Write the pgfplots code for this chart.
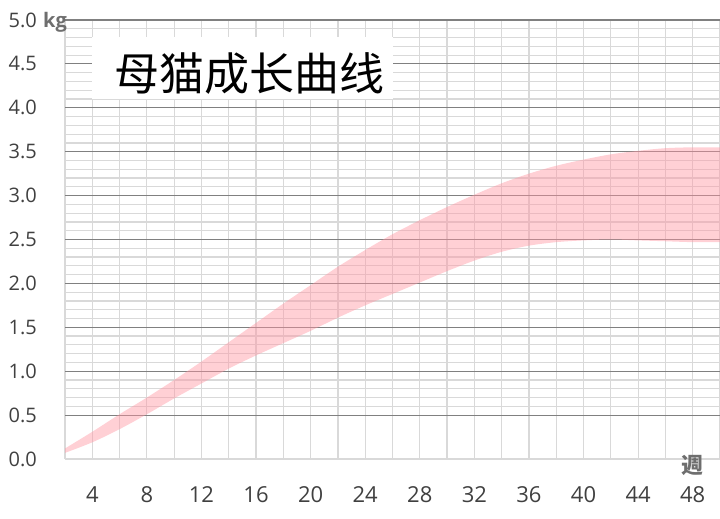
\documentclass[border=0pt]{standalone}
\usepackage{fontspec}
\setmainfont{Open Sans}
\newfontfamily\cjk{Noto Sans CJK SC}
\usepackage{pgfplots}
\pgfplotsset{compat=1.18}
\usepgfplotslibrary{fillbetween}

\definecolor{ticktext}{RGB}{64,64,64}
\definecolor{unittext}{RGB}{110,110,110}
\definecolor{gridlight}{RGB}{217,217,217}
\definecolor{griddark}{RGB}{128,128,128}
\definecolor{bandpink}{RGB}{255,150,162}

% upper and lower limits of the weight range (kg) by week
\pgfplotstableread{
week upper lower
2  0.12 0.07
4  0.31 0.19
6  0.51 0.34
8  0.70 0.51
10 0.90 0.69
12 1.11 0.86
14 1.33 1.03
16 1.55 1.18
18 1.77 1.32
20 1.98 1.46
22 2.19 1.61
24 2.38 1.75
26 2.56 1.88
28 2.72 2.01
30 2.87 2.14
32 3.01 2.26
34 3.14 2.36
36 3.25 2.43
38 3.34 2.47
40 3.41 2.49
42 3.47 2.50
44 3.51 2.49
46 3.54 2.48
48 3.55 2.47
50 3.55 2.47
}\weights

\begin{document}
\begin{tikzpicture}
\begin{axis}[
scale only axis,
width=655bp, height=439bp,
xmin=2, xmax=50,
ymin=0, ymax=5,
clip=false,
axis line style={draw=none},
tick style={draw=none},
xtick={4,8,...,48},
minor xtick={2,6,...,50},
ytick={0.5,1,...,5},
extra y ticks={0},
extra y tick labels={0.0},
extra y tick style={major grid style={gridlight, line width=1.2bp},
  y grid style={gridlight, line width=1.2bp}},
minor y tick num=4,
xmajorgrids, xminorgrids,
ymajorgrids, yminorgrids,
x grid style={gridlight, line width=1.2bp},
minor x grid style={gridlight, line width=1.2bp},
y grid style={griddark, line width=1.2bp},
minor y grid style={gridlight, line width=1.2bp},
/pgf/number format/assume math mode=true,
yticklabel={\pgfmathprintnumber[fixed, fixed zerofill, precision=1]{\tick}},
ticklabel style={text=ticktext},
yticklabel style={anchor=east, inner sep=0pt, xshift=-28bp,
  font=\fontsize{20bp}{24bp}\selectfont},
xticklabel style={anchor=center, inner sep=0pt, yshift=-35.5bp,
  font=\fontsize{22bp}{26bp}\selectfont},
]
\addplot [draw=none, name path=up, smooth, tension=0.5]
  table [x=week, y=upper] {\weights};
\addplot [draw=none, name path=lo, smooth, tension=0.5]
  table [x=week, y=lower] {\weights};
\addplot [fill=bandpink, fill opacity=0.45, draw=none] fill between [of=up and lo];

% title box
\fill [white] (axis cs:3.98,4.10) rectangle (axis cs:26.03,4.81);
\node [font=\cjk\fontsize{45bp}{50bp}\selectfont, text=black, inner sep=0pt]
  at (axis cs:15.55,4.385) {母猫成长曲线};

% unit labels
\node [font=\fontsize{20bp}{24bp}\selectfont\bfseries, text=unittext, anchor=base, inner sep=0pt]
  at (rel axis cs:0,1) [xshift=-10bp, yshift=-7.3bp] {kg};
\node [font=\cjk\fontsize{22bp}{26bp}\selectfont\bfseries, text=unittext, inner sep=0pt]
  at (axis cs:48,0) [yshift=-6.7bp] {週};
\end{axis}
\pgfresetboundingbox
\path [use as bounding box]
  ([shift={(-65bp,-59bp)}]current axis.south west)
  rectangle ([shift={(0bp,20bp)}]current axis.north east);
\end{tikzpicture}
\end{document}
